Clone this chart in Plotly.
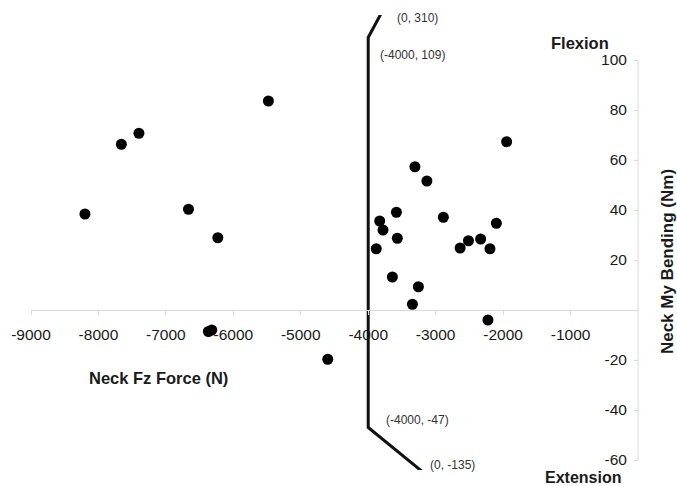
import plotly.graph_objects as go

# Scatter data: Neck Fz force (N) vs Neck My bending (Nm)
fz_force = [-8200, -7660, -7400, -6665, -6230, -5480, -6370, -6320, -4600,
            -3307, -3130, -3582, -3830, -3781, -3568, -3881, -2886, -2100,
            -2637, -2514, -2333, -2195, -3642, -3256, -3345, -2225, -1948]
my_bending = [38.4, 66.3, 70.7, 40.3, 28.9, 83.6, -8.6, -8.0, -19.7,
              57.3, 51.6, 39.1, 35.6, 32.0, 28.7, 24.5, 37.1, 34.7,
              24.8, 27.7, 28.4, 24.5, 13.2, 9.3, 2.3, -4.0, 67.3]

# Injury criteria corridor
limit_x = [0, -4000, -4000, 0]
limit_y = [310, 109, -47, -135]
limit_labels = ["(0, 310)", "(-4000, 109)", "(-4000, -47)", "(0, -135)"]

x_ticks = [-9000, -8000, -7000, -6000, -5000, -4000, -3000, -2000, -1000]
y_ticks = [-60, -40, -20, 20, 40, 60, 80, 100]

Y_MIN, Y_MAX = -64, 118
X_MIN, X_MAX = -9000, 0

fig = go.Figure()
fig.add_trace(go.Scatter(x=limit_x, y=limit_y, mode="lines",
                         line=dict(color="#111111", width=3), hoverinfo="skip"))
fig.add_trace(go.Scatter(x=fz_force, y=my_bending, mode="markers",
                         marker=dict(color="black", size=11), cliponaxis=False))

font_fam = "Liberation Sans, Arial, sans-serif"
axis_gray = "#d9d9d9"

fig.update_layout(
    width=677, height=486,
    margin=dict(l=31, r=39, t=15, b=16),
    paper_bgcolor="white", plot_bgcolor="white",
    showlegend=False,
    font=dict(family=font_fam, color="#1a1a1a"),
    xaxis=dict(range=[X_MIN, X_MAX], tickvals=x_ticks,
               ticktext=[str(v) for v in x_ticks],
               showgrid=False, zeroline=False, showline=True,
               linecolor=axis_gray, linewidth=1,
               ticks="outside", ticklen=4, tickcolor=axis_gray,
               anchor="free", position=(0 - Y_MIN) / (Y_MAX - Y_MIN),
               tickfont=dict(size=15.5, color="#1a1a1a"),
               ticklabelstandoff=6),
    yaxis=dict(range=[Y_MIN, Y_MAX], tickvals=y_ticks,
               ticktext=[str(v) for v in y_ticks],
               showgrid=False, zeroline=False, showline=False,
               ticks="outside", ticklen=4, tickcolor=axis_gray,
               anchor="free", position=1, side="left",
               tickfont=dict(size=15.5, color="#1a1a1a"),
               ticklabelstandoff=4),
)

# y-axis line only spans the labelled range
fig.add_shape(type="line", xref="paper", yref="y", x0=1, x1=1, y0=-60, y1=100,
              line=dict(color=axis_gray, width=1))

# corridor point labels
label_pos = [(-3267, 116.8), (-3341, 102.0), (-3267, -44.0), (-2748, -62.0)]
for (ax, ay), t in zip(label_pos, limit_labels):
    fig.add_annotation(x=ax, y=ay, text=t, showarrow=False, xref="x", yref="y",
                       font=dict(size=12, color="#333333", family=font_fam))

fig.add_annotation(x=-855, y=106.8, text="<b>Flexion</b>", showarrow=False,
                   font=dict(size=16.5, color="#1a1a1a"))
fig.add_annotation(x=0.909, y=-0.0154, xref="paper", yref="paper",
                   xanchor="center", yanchor="middle",
                   text="<b>Extension</b>", showarrow=False,
                   font=dict(size=16, color="#1a1a1a"))
fig.add_annotation(x=-7110, y=-27.2, text="<b>Neck Fz Force (N)</b>", showarrow=False,
                   font=dict(size=16.5, color="#1a1a1a"))
fig.add_annotation(x=1.0478, y=0.457, xref="paper", yref="paper",
                   xanchor="center", yanchor="middle",
                   text="<b>Neck My Bending (Nm)</b>", showarrow=False,
                   textangle=-90, font=dict(size=17, color="#1a1a1a"))

fig.write_html("out.html")
